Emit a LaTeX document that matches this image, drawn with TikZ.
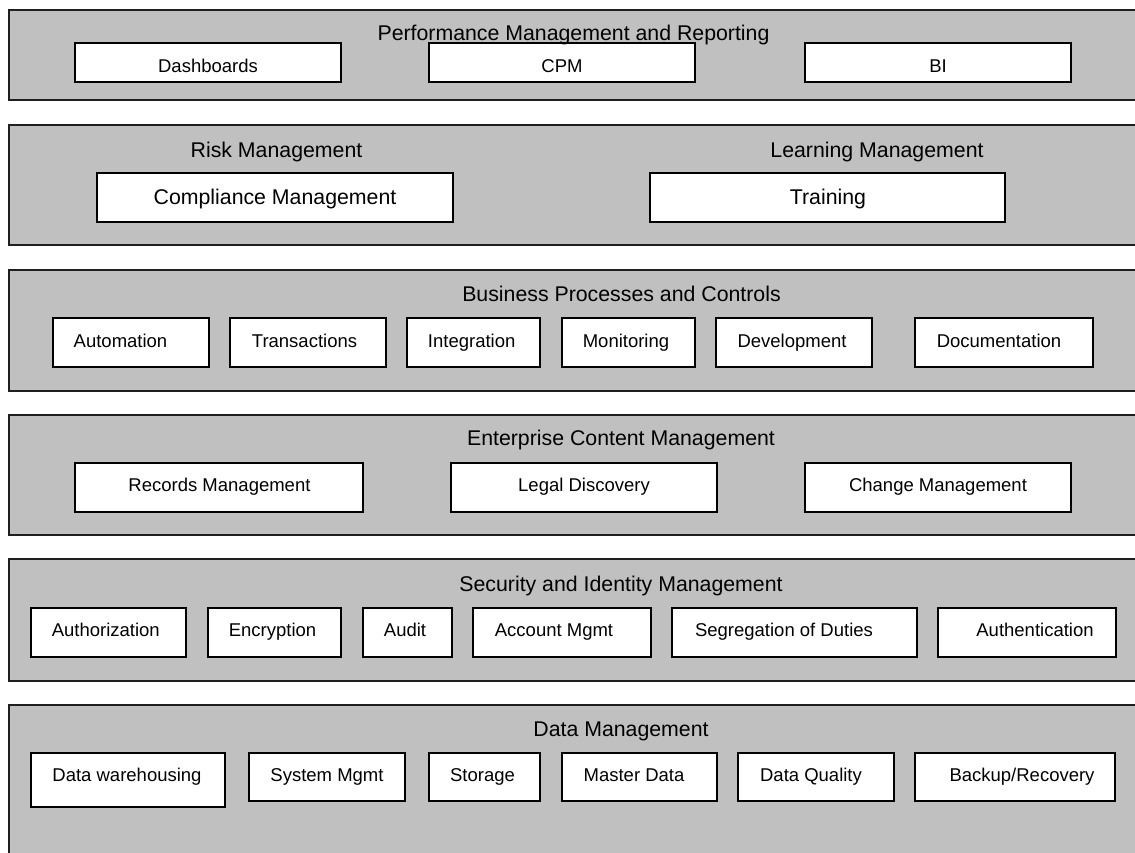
\documentclass[tikz,border=0pt]{standalone}
\usepackage{fontspec}
\setmainfont{Liberation Sans}
\definecolor{bandgray}{HTML}{C0C0C0}
% layer box: name, left, top, right, bottom, label x, label baseline, label
\newcommand\layerbox[8]{%
  \node[box, minimum width={(#4-#2)*1pt}, minimum height={(#5-#3)*1pt}]
    (#1) at ({(#2+#4)/2},{(#3+#5)/2}) {};
  \node[lbl] (#1-t) at (#6,#7) {#8};}
% large item box with the bigger font
\newcommand\bigbox[8]{%
  \node[box, minimum width={(#4-#2)*1pt}, minimum height={(#5-#3)*1pt}]
    (#1) at ({(#2+#4)/2},{(#3+#5)/2}) {};
  \node[title] (#1-t) at (#6,#7) {#8};}
% band: name, top, bottom
\newcommand\band[3]{%
  \node[bandbox, minimum width=1136pt, minimum height={(#3-#2)*1pt}]
    (#1) at (577,{(#2+#3)/2}) {};}
\begin{document}
\begin{tikzpicture}[x=1pt,y=-1pt,
  bandbox/.style={draw=black!88, line width=1.7pt, fill=bandgray, inner sep=0pt},
  box/.style={draw=black, line width=1.6pt, fill=white, inner sep=0pt},
  title/.style={font=\fontsize{21.3}{25}\selectfont, anchor=base, inner sep=0pt},
  lbl/.style={font=\fontsize{18.5}{22}\selectfont, anchor=base, inner sep=0pt}]
\useasboundingbox (0,0) rectangle (1135,852);
\clip (0,0) rectangle (1135,852);

% Performance Management and Reporting
\band{b1}{10}{100}
\layerbox{dash}{75}{43}{341}{82}{208}{72}{Dashboards}
\layerbox{cpm}{429}{43}{695}{82}{562}{72}{CPM}
\layerbox{bi}{805}{43}{1071}{82}{938}{72}{BI}
\node[title] (b1-t) at (573.5,40) {Performance Management and Reporting};

% Risk and Learning Management
\band{b2}{125}{245}
\node[title] (risk-t) at (276.5,157) {Risk Management};
\node[title] (learn-t) at (877,157) {Learning Management};
\bigbox{comp}{97}{173}{453}{222}{275}{204}{Compliance Management}
\bigbox{train}{650}{173}{1005}{222}{828}{204}{Training}

% Business Processes and Controls
\band{b3}{270}{391}
\layerbox{auto}{53}{318}{209}{367}{120.5}{347.3}{Automation}
\layerbox{trans}{230}{318}{386}{367}{304.5}{347.3}{Transactions}
\layerbox{integ}{407}{318}{540}{367}{471.7}{347.3}{Integration}
\layerbox{monit}{562}{318}{695}{367}{626}{347.3}{Monitoring}
\layerbox{devel}{716}{318}{872}{367}{792}{347.3}{Development}
\layerbox{docu}{915}{318}{1093}{367}{999}{347.3}{Documentation}
\node[title] (b3-t) at (621.5,301.5) {Business Processes and Controls};

% Enterprise Content Management
\band{b4}{415}{535}
\layerbox{recs}{75}{463}{363}{512}{219.5}{491.7}{Records Management}
\layerbox{legal}{451}{463}{717}{512}{584}{491.7}{Legal Discovery}
\layerbox{change}{805}{463}{1071}{512}{938}{491.7}{Change Management}
\node[title] (b4-t) at (621,445.7) {Enterprise Content Management};

% Security and Identity Management
\band{b5}{559}{681}
\layerbox{authz}{31}{608}{186}{657}{105.8}{636.7}{Authorization}
\layerbox{encr}{208}{608}{341}{657}{272.5}{636.7}{Encryption}
\layerbox{audit}{363}{608}{452}{657}{405}{636.7}{Audit}
\layerbox{acct}{473}{608}{651}{657}{554}{636.7}{Account Mgmt}
\layerbox{sod}{672}{608}{917}{657}{784}{636.7}{Segregation of Duties}
\layerbox{authn}{938}{608}{1116}{657}{1035}{636.7}{Authentication}
\node[title] (b5-t) at (621,591) {Security and Identity Management};

% Data Management
\band{b6}{705}{880}
\layerbox{dwh}{31}{753}{225}{807}{127}{781.7}{Data warehousing}
\layerbox{sysm}{249}{753}{405}{801}{327}{781.7}{System Mgmt}
\layerbox{stor}{429}{753}{540}{801}{482.5}{781.7}{Storage}
\layerbox{mdata}{562}{753}{717}{801}{634}{781.7}{Master Data}
\layerbox{dq}{738}{753}{894}{801}{811}{781.7}{Data Quality}
\layerbox{backup}{915}{753}{1115}{801}{1022}{781.7}{Backup/Recovery}
\node[title] (b6-t) at (621,736) {Data Management};
\end{tikzpicture}
\end{document}
